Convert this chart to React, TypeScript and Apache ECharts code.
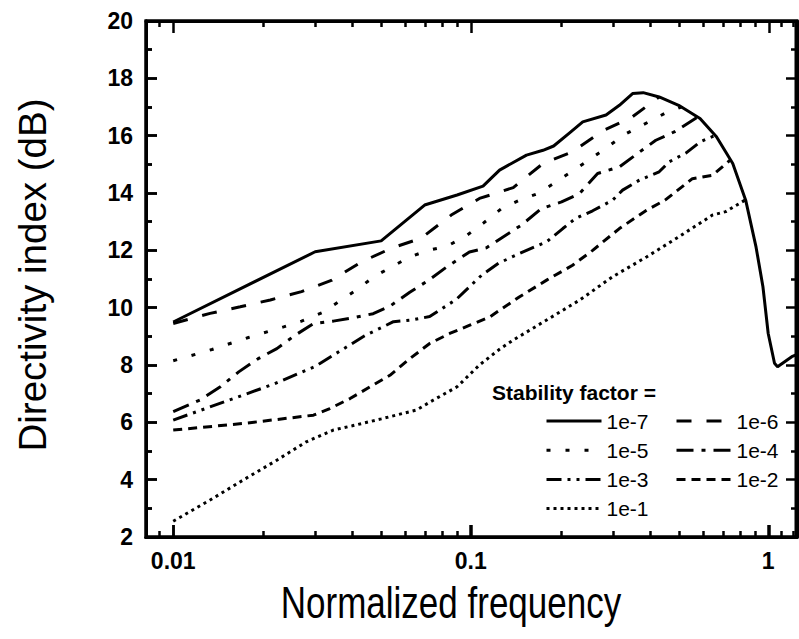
import React, { useEffect, useRef } from "react";
import * as echarts from "echarts";

const FONT = '"Liberation Sans", Arial, Helvetica, sans-serif';

// ---- data (normalized frequency, directivity index dB) ----
const seriesNames = ["1e-7", "1e-6", "1e-5", "1e-4", "1e-3", "1e-2", "1e-1"];

const sf1e7: [number, number][] = [
  [0.01, 9.5], [0.03, 11.95], [0.05, 12.33], [0.07, 13.58], [0.09, 13.93], [0.11, 14.24],
  [0.125, 14.8], [0.154, 15.32], [0.175, 15.49], [0.19, 15.64], [0.215, 16.1], [0.238, 16.48],
  [0.285, 16.72], [0.316, 17.06], [0.35, 17.47], [0.38, 17.5], [0.43, 17.35], [0.5, 17.06],
  [0.59, 16.6], [0.67, 15.96], [0.76, 15.03], [0.84, 13.75], [0.91, 12.12], [0.96, 10.73],
  [1.0, 9.1], [1.05, 8.06], [1.075, 7.94], [1.2, 8.29], [1.24, 8.35],
];
const sf1e6: [number, number][] = [
  [0.01, 9.45], [0.0133, 9.8], [0.0168, 10.03], [0.0212, 10.27], [0.027, 10.56], [0.034, 10.95],
  [0.043, 11.6], [0.054, 12.07], [0.068, 12.42], [0.086, 13.23], [0.107, 13.81], [0.139, 14.19],
  [0.175, 15.03], [0.22, 15.44], [0.278, 16.17], [0.35, 16.66], [0.43, 17.35],
];
const sf1e5: [number, number][] = [
  [0.01, 8.15], [0.0135, 8.54], [0.0179, 8.96], [0.0235, 9.33], [0.027, 9.53], [0.0316, 9.82],
  [0.0359, 10.2], [0.0413, 10.62], [0.0476, 11.1], [0.0542, 11.42], [0.0624, 11.77], [0.072, 12.0],
  [0.083, 12.14], [0.0955, 12.47], [0.11, 12.94], [0.127, 13.46], [0.146, 13.75], [0.168, 13.98],
  [0.194, 14.39], [0.254, 15.2], [0.333, 16.07], [0.448, 16.77], [0.51, 17.0],
];
const sf1e4: [number, number][] = [
  [0.01, 6.37], [0.0123, 6.78], [0.0144, 7.24], [0.0166, 7.76], [0.0193, 8.22], [0.0223, 8.57],
  [0.0256, 9.03], [0.0296, 9.44], [0.0345, 9.53], [0.0413, 9.67], [0.047, 9.79], [0.0535, 10.05],
  [0.0624, 10.54], [0.072, 10.95], [0.083, 11.42], [0.099, 11.94], [0.113, 12.09], [0.148, 12.88],
  [0.173, 13.46], [0.202, 13.69], [0.232, 13.98], [0.267, 14.68], [0.316, 14.91], [0.364, 15.38],
  [0.419, 15.84], [0.483, 16.13], [0.58, 16.65],
];
const sf1e3: [number, number][] = [
  [0.01, 6.08], [0.0149, 6.72], [0.0217, 7.33], [0.03, 7.95], [0.044, 9.02], [0.055, 9.51],
  [0.0632, 9.57], [0.0728, 9.69], [0.0895, 10.29], [0.109, 11.14], [0.124, 11.55], [0.146, 11.89],
  [0.18, 12.3], [0.204, 12.76], [0.225, 13.11], [0.257, 13.38], [0.3, 13.75], [0.324, 14.1],
  [0.369, 14.45], [0.43, 14.74], [0.465, 15.09], [0.53, 15.4], [0.59, 15.78], [0.66, 16.0],
];
const sf1e2: [number, number][] = [
  [0.01, 5.73], [0.0172, 5.96], [0.0296, 6.25], [0.0336, 6.48], [0.0393, 6.83], [0.0459, 7.24],
  [0.0535, 7.64], [0.0624, 8.22], [0.0728, 8.75], [0.085, 9.1], [0.0993, 9.39], [0.116, 9.68],
  [0.146, 10.38], [0.18, 10.96], [0.22, 11.48], [0.257, 12.0], [0.316, 12.76], [0.39, 13.4],
  [0.45, 13.75], [0.556, 14.5], [0.65, 14.62], [0.745, 15.15],
];
const sf1e1: [number, number][] = [
  [0.01, 2.55], [0.0133, 3.29], [0.0172, 3.99], [0.0223, 4.68], [0.028, 5.32], [0.0345, 5.73],
  [0.04, 5.88], [0.05, 6.12], [0.0657, 6.43], [0.075, 6.78], [0.09, 7.24], [0.107, 8.0],
  [0.125, 8.55], [0.139, 8.87], [0.18, 9.57], [0.232, 10.26], [0.3, 11.08], [0.39, 11.77],
  [0.5, 12.47], [0.65, 13.23], [0.72, 13.35], [0.835, 13.75],
];

const seriesData = [sf1e7, sf1e6, sf1e5, sf1e4, sf1e3, sf1e2, sf1e1];

// axis ticks / labels
const xMinorTicks = [0.009, 0.02, 0.03, 0.04, 0.05, 0.06, 0.07, 0.08, 0.09, 0.2, 0.3, 0.4, 0.5, 0.6, 0.7, 0.8, 0.9, 1.1, 1.2];
const xMin = 0.0081;
const xMax = 1.24;
const yMin = 2;
const yMax = 20;
const yStep = 2;

// styles
const dashStyles: (number[] | "solid")[] = [
  "solid",
  [15, 15],
  [4, 15],
  [17, 8, 4, 8],
  [15, 6, 3, 6, 3, 6],
  [9, 6],
  [3, 4],
];

const GRID = { left: 146, right: 2, top: 21, bottom: 102 };

export default function App() {
  const ref = useRef<HTMLDivElement>(null);
  const frameRef = useRef<HTMLDivElement>(null);
  const titleRef = useRef<HTMLDivElement>(null);

  useEffect(() => {
    if (!ref.current || !frameRef.current || !titleRef.current) return;
    const chart = echarts.init(ref.current, undefined, { renderer: "svg" });
    const frame = echarts.init(frameRef.current, undefined, { renderer: "svg" });
    const titles = echarts.init(titleRef.current, undefined, { renderer: "svg" });

    const isPow10 = (v: number) => {
      const l = Math.log10(v);
      return Math.abs(l - Math.round(l)) < 1e-6;
    };
    const fmt = (v: number) => (isPow10(v) ? String(Number(Number(v).toPrecision(3))) : "");

    const legendOf = (left: number, data: string[]) => ({
      orient: "vertical",
      left,
      top: 410.5,
      data,
      itemWidth: 55,
      itemHeight: 21,
      itemGap: 8.2,
      padding: 0,
      selectedMode: false,
      itemStyle: { opacity: 0 },
      lineStyle: { width: 3 },
      textStyle: { fontSize: 21, fontFamily: FONT, color: "#000" },
    });

    // Main chart: curves, axis labels, legend.
    chart.setOption({
      animation: false,
      grid: { ...GRID, show: true, borderColor: "#000", borderWidth: 3 },
      xAxis: {
        type: "log",
        logBase: 10,
        min: xMin,
        max: xMax,
        axisLine: { show: true, lineStyle: { color: "#000", width: 3 } },
        splitLine: { show: false },
        axisTick: { show: true, inside: true, length: 12, lineStyle: { color: "#000", width: 2.5 } },
        axisLabel: { show: true, formatter: fmt, margin: 12, color: "#000", fontSize: 23, fontWeight: "bold", fontFamily: FONT },
      },
      yAxis: {
        type: "value",
        min: yMin,
        max: yMax,
        interval: yStep,
        axisLine: { show: true, lineStyle: { color: "#000", width: 3 } },
        splitLine: { show: false },
        axisTick: { show: true, inside: true, length: 11, lineStyle: { color: "#000", width: 2.5 } },
        minorTick: { show: true, splitNumber: 2, length: 6, lineStyle: { color: "#000", width: 2.5 } },
        axisLabel: { show: true, margin: 13, color: "#000", fontSize: 23, fontWeight: "bold", fontFamily: FONT },
      },
      legend: [
        legendOf(545, ["1e-7", "1e-5", "1e-3", "1e-1"]),
        legendOf(675, ["1e-6", "1e-4", "1e-2"]),
      ],
      graphic: [
        {
          type: "text",
          x: 492,
          y: 392,
          style: {
            text: "Stability factor =",
            fontSize: 21,
            fontWeight: "bold",
            fontFamily: FONT,
            fill: "#000",
            align: "left",
            verticalAlign: "middle",
          },
        },
      ],
      series: seriesNames.map((name, i) => ({
        name,
        type: "line",
        data: seriesData[i],
        symbol: "none",
        z: i === 0 ? 5 : 3,
        itemStyle: { color: "#000" },
        lineStyle: { color: "#000", width: 3, type: dashStyles[i] },
      })),
    } as any);

    // Frame overlay: the same grid and scales, drawing the box and the inward ticks on all sides.
    const fx = (position: "top" | "bottom", minor: boolean) => ({
      type: "log",
      logBase: 10,
      position,
      min: xMin,
      max: xMax,
      axisLine: { show: !minor, lineStyle: { color: "#000", width: 3 } },
      splitLine: { show: false },
      axisLabel: { show: false },
      axisTick: minor
        ? { show: true, inside: true, length: 6, customValues: xMinorTicks, lineStyle: { color: "#000", width: 2.5 } }
        : { show: true, inside: true, length: 12, lineStyle: { color: "#000", width: 2.5 } },
    });
    const fy = (position: "left" | "right") => ({
      type: "value",
      position,
      min: yMin,
      max: yMax,
      interval: yStep,
      axisLine: { show: true, lineStyle: { color: "#000", width: 3 } },
      splitLine: { show: false },
      axisLabel: { show: false },
      axisTick: { show: true, inside: true, length: 11, lineStyle: { color: "#000", width: 2.5 } },
      minorTick: { show: true, splitNumber: 2, length: 6, lineStyle: { color: "#000", width: 2.5 } },
    });
    frame.setOption({
      animation: false,
      grid: { ...GRID, show: true, borderColor: "#000", borderWidth: 3 },
      xAxis: [fx("bottom", false), fx("bottom", true), fx("top", false), fx("top", true)],
      yAxis: [fy("left"), fy("right")],
      series: [
        { type: "line", xAxisIndex: 0, yAxisIndex: 0, data: [], symbol: "none", silent: true },
        { type: "line", xAxisIndex: 1, yAxisIndex: 1, data: [], symbol: "none", silent: true },
        { type: "line", xAxisIndex: 2, yAxisIndex: 0, data: [], symbol: "none", silent: true },
        { type: "line", xAxisIndex: 3, yAxisIndex: 1, data: [], symbol: "none", silent: true },
      ],
    } as any);

    // Axis titles overlay.
    titles.setOption({
      animation: false,
      graphic: [
        {
          type: "text",
          x: 32,
          y: 275,
          rotation: Math.PI / 2,
          style: {
            text: "Directivity index (dB)",
            fontSize: 38.5,
            fontFamily: FONT,
            fill: "#000",
            align: "center",
            verticalAlign: "middle",
          },
        },
        {
          type: "text",
          x: 451,
          y: 603,
          scaleY: 1.25,
          style: {
            text: "Normalized frequency",
            fontSize: 35,
            fontFamily: FONT,
            fill: "#000",
            align: "center",
            verticalAlign: "middle",
          },
        },
      ],
    } as any);

    return () => {
      chart.dispose();
      frame.dispose();
      titles.dispose();
    };
  }, []);

  return (
    <div>
      <div
        ref={ref}
        style={{ position: "fixed", left: 0, top: 0, width: 799, height: 639, background: "#fff" }}
      />
      <div
        ref={frameRef}
        style={{ position: "fixed", left: 0, top: 0, width: 799, height: 639, pointerEvents: "none", zIndex: 1 }}
      />
      <div
        ref={titleRef}
        style={{ position: "fixed", left: 0, top: 0, width: 799, height: 639, pointerEvents: "none", zIndex: 2 }}
      />
    </div>
  );
}
